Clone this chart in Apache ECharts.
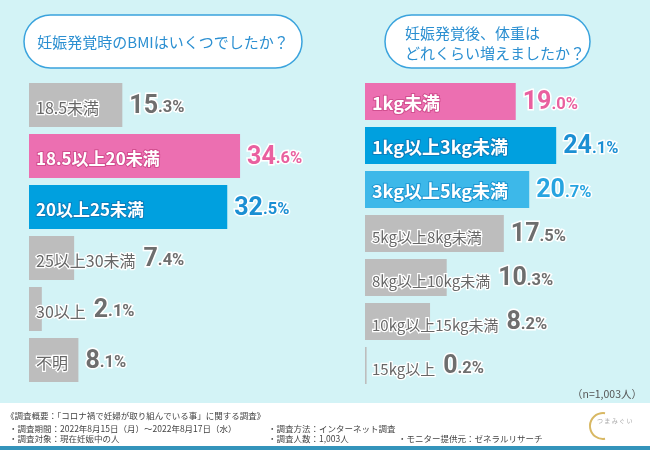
<!DOCTYPE html>
<html><head><meta charset="utf-8">
<script src="https://cdn.jsdelivr.net/npm/echarts@6/dist/echarts.min.js"></script>
<style>html,body{margin:0;padding:0;background:#d3f3f6}#c{width:650px;height:450px}</style>
</head><body><div id="c"></div>
<script>
// ---- data ----
const bmiCategories = ['18.5未満', '18.5以上20未満', '20以上25未満', '25以上30未満', '30以上', '不明'];
const bmiValues = [15.3, 34.6, 32.5, 7.4, 2.1, 8.1];
const weightCategories = ['1kg未満', '1kg以上3kg未満', '3kg以上5kg未満', '5kg以上8kg未満', '8kg以上10kg未満', '10kg以上15kg未満', '15kg以上'];
const weightValues = [19.0, 24.1, 20.7, 17.5, 10.3, 8.2, 0.2];
const bmiTitle = '妊娠発覚時のBMIはいくつでしたか？';
const weightTitle = ['妊娠発覚後、体重は', 'どれくらい増えましたか？'];
const sampleNote = '（n=1,003人）';
const footerLines = [
  '《調査概要：「コロナ禍で妊婦が取り組んでいる事」に関する調査》',
  '・調査期間：2022年8月15日（月）～2022年8月17日（水）',
  '・調査対象：現在妊娠中の人',
  '・調査方法：インターネット調査',
  '・調査人数：1,003人',
  '・モニター提供元：ゼネラルリサーチ'
];

// ---- styles ----
const bmiTones = ['gray', 'pink', 'blue', 'gray', 'gray', 'gray'];
const weightTones = ['pink', 'blue', 'light', 'gray', 'gray', 'gray', 'gray'];
const TONE = {
  gray:  {bar: '#bdbdbd', text: '#676767', stroke: '#ffffff', sw: 2.5, val: '#6e6e6e', bold: false},
  pink:  {bar: '#ec6fb1', text: '#ffffff', stroke: '#d24f90', sw: 2, val: '#e9609f', bold: true},
  blue:  {bar: '#00a0df', text: '#ffffff', stroke: '#0b7fbe', sw: 2, val: '#1b8fd3', bold: true},
  light: {bar: '#3db8e9', text: '#ffffff', stroke: '#1f97d2', sw: 2, val: '#27a4e0', bold: true}
};
const JP = "'Noto Sans CJK JP', 'Noto Sans', sans-serif";
const NUM = "'Liberation Sans Narrow', 'Roboto', sans-serif";

const chart = echarts.init(document.getElementById('c'), null, {renderer: 'canvas'});
const cv = document.createElement('canvas').getContext('2d');
function textW(t, font) { cv.font = font; return cv.measureText(t).width; }

const grids = [
  {left: 29, top: 79.5, width: 305, height: 306},
  {left: 365, top: 79.5, width: 238, height: 308}
];
const panels = [
  {cats: bmiCategories, vals: bmiValues, tones: bmiTones, max: 50, gap: '13.7%', colSize: 17, graySize: 16},
  {cats: weightCategories, vals: weightValues, tones: weightTones, max: 30, gap: '15.9%', colSize: 18, graySize: 15}
];

function baseOption() {
  return {
    animation: false,
    backgroundColor: '#d3f3f6',
    grid: grids,
    xAxis: panels.map((p, i) => ({type: 'value', gridIndex: i, min: 0, max: p.max, show: false})),
    yAxis: panels.map((p, i) => ({type: 'category', gridIndex: i, data: p.cats, inverse: true, show: false})),
    series: []
  };
}

chart.setOption(Object.assign(baseOption(), {
  series: panels.map((p, i) => ({type: 'bar', xAxisIndex: i, yAxisIndex: i, data: p.vals}))
}));

function richFor(t, p) {
  const size = t.bold ? p.colSize : p.graySize;
  return {
    c: {fontFamily: JP, fontSize: size, fontWeight: t.bold ? 'bold' : 'normal', color: t.text,
        textBorderColor: t.stroke, textBorderWidth: t.sw, verticalAlign: 'bottom', lineHeight: 28, padding: [0, 0, 3, 0]},
    g: {width: 8},
    n: {fontFamily: NUM, fontSize: 25, fontWeight: 'bold', color: t.val, textBorderColor: '#fff', textBorderWidth: 3,
        verticalAlign: 'bottom', lineHeight: 28},
    d: {fontFamily: NUM, fontSize: 16.5, fontWeight: 'bold', color: t.val, textBorderColor: '#fff', textBorderWidth: 3,
        verticalAlign: 'bottom', lineHeight: 28, padding: [0, 0, 2.5, 0]}
  };
}
function valText(v) {
  const s = v.toFixed(1).split('.');
  return '{n|' + s[0] + '}{d|.' + s[1] + '%}';
}

const series = [];
panels.forEach((p, gi) => {
  const x0 = chart.convertToPixel({xAxisIndex: gi}, 0);
  const mainData = [], valData = [];
  p.vals.forEach((v, k) => {
    const t = TONE[p.tones[k]];
    const size = t.bold ? p.colSize : p.graySize;
    const cw = textW(p.cats[k], (t.bold ? 'bold ' : '') + size + 'px ' + JP);
    const barPx = chart.convertToPixel({xAxisIndex: gi}, v) - x0;
    const inline = 7 + cw + 4 > barPx;
    const rich = richFor(t, p);
    mainData.push({
      value: v,
      itemStyle: {color: t.bar},
      label: {show: true, position: 'insideLeft', distance: 7, rich: rich,
              formatter: '{c|' + p.cats[k] + '}' + (inline ? '{g|}' + valText(v) : '')}
    });
    valData.push({
      value: v,
      label: {show: !inline, position: 'right', distance: 7, rich: rich, formatter: valText(v)}
    });
  });
  series.push({type: 'bar', xAxisIndex: gi, yAxisIndex: gi, data: mainData, barCategoryGap: p.gap, barGap: '-100%', z: 2});
  series.push({type: 'bar', xAxisIndex: gi, yAxisIndex: gi, data: valData, barCategoryGap: p.gap, barGap: '-100%',
               itemStyle: {color: 'rgba(0,0,0,0)'}, silent: true, z: 3});
});

const footStyle = {fontFamily: JP, fontSize: 8.5, fill: '#444'};
const graphic = [
  {type: 'rect', shape: {x: 24, y: 15, width: 278, height: 53, r: 26.5}, style: {fill: '#fff', stroke: '#3aa3dd', lineWidth: 1.5}, z: 1},
  {type: 'text', x: 163, y: 42, style: {text: bmiTitle, fontFamily: JP, fontSize: 15, fill: '#2b8fd1', align: 'center', verticalAlign: 'middle'}, z: 2},
  {type: 'rect', shape: {x: 385, y: 15, width: 205, height: 53, r: 26.5}, style: {fill: '#fff', stroke: '#3aa3dd', lineWidth: 1.5}, z: 1},
  {type: 'text', x: 405, y: 33, style: {text: weightTitle[0], fontFamily: JP, fontSize: 15, fill: '#2b8fd1', align: 'left', verticalAlign: 'middle'}, z: 2},
  {type: 'text', x: 405, y: 53, style: {text: weightTitle[1], fontFamily: JP, fontSize: 15, fill: '#2b8fd1', align: 'left', verticalAlign: 'middle'}, z: 2},
  {type: 'text', x: 642, y: 394, style: {text: sampleNote, fontFamily: JP, fontSize: 10.5, fill: '#555', align: 'right', verticalAlign: 'middle'}, z: 2},
  {type: 'rect', shape: {x: 0, y: 403, width: 650, height: 44}, style: {fill: '#ffffff'}, z: 1},
  {type: 'rect', shape: {x: 0, y: 446, width: 650, height: 4}, style: {fill: '#3494bb'}, z: 1},
  {type: 'text', x: 6, y: 416, style: Object.assign({text: footerLines[0], verticalAlign: 'middle'}, footStyle), z: 2},
  {type: 'text', x: 9, y: 429, style: Object.assign({text: footerLines[1], verticalAlign: 'middle'}, footStyle), z: 2},
  {type: 'text', x: 9, y: 439, style: Object.assign({text: footerLines[2], verticalAlign: 'middle'}, footStyle), z: 2},
  {type: 'text', x: 268, y: 429, style: Object.assign({text: footerLines[3], verticalAlign: 'middle'}, footStyle), z: 2},
  {type: 'text', x: 268, y: 439, style: Object.assign({text: footerLines[4], verticalAlign: 'middle'}, footStyle), z: 2},
  {type: 'text', x: 398, y: 439, style: Object.assign({text: footerLines[5], verticalAlign: 'middle'}, footStyle), z: 2},
  {type: 'arc', shape: {cx: 603, cy: 426, r: 13, startAngle: Math.PI * 0.45, endAngle: Math.PI * 1.55, clockwise: true},
   style: {stroke: '#d8b863', lineWidth: 2, fill: null}, z: 2},
  {type: 'text', x: 597, y: 421, style: {text: 'つ ま み ぐ い', fontFamily: JP, fontSize: 6, fill: '#aaa', verticalAlign: 'middle'}, z: 2}
];

chart.setOption(Object.assign(baseOption(), {series: series, graphic: graphic}), true);
</script>
</body></html>
